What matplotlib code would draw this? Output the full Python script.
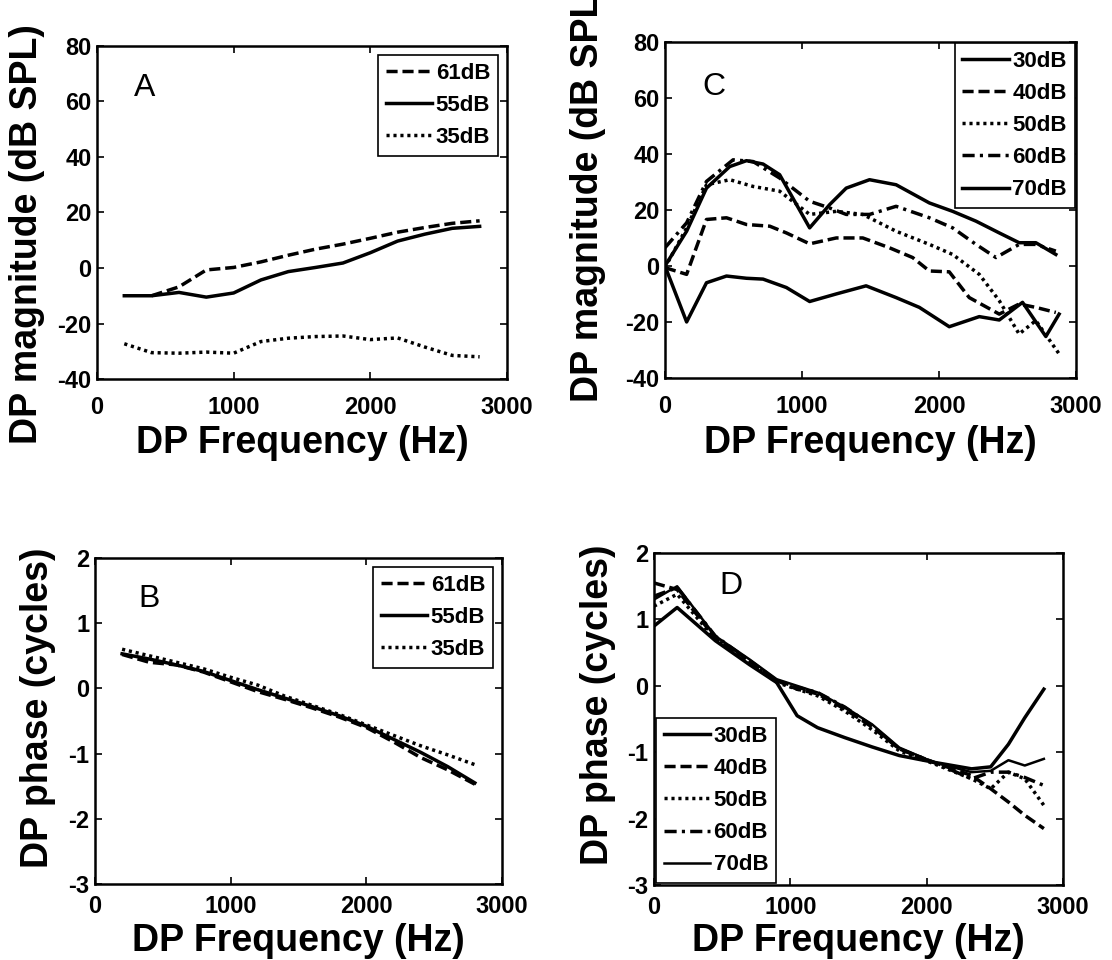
import numpy as np
import matplotlib
matplotlib.use("Agg")
import matplotlib.pyplot as plt

plt.rcParams['font.family'] = ['Liberation Sans', 'DejaVu Sans']
plt.rcParams['axes.unicode_minus'] = False

# --- panel A : DP magnitude, three levels ---
freq_a = [200, 400, 600, 800, 1000, 1200, 1400, 1600, 1800, 2000, 2200, 2400, 2600, 2800]
mag_a_61 = [np.nan, -10, -6.8, -0.7, 0.2, 2.2, 4.6, 6.8, 8.6, 10.7, 12.9, 14.6, 16.1, 17.0]
mag_a_55 = [-10, -10, -8.8, -10.5, -9.0, -4.3, -1.3, 0.2, 1.8, 5.5, 9.7, 12.2, 14.3, 15.0]
mag_a_35 = [-27.3, -30.5, -30.7, -30.3, -30.7, -26.5, -25.3, -24.7, -24.5, -25.8, -25.2, -28.5, -31.5, -32.0]

# --- panel B : DP phase, three levels ---
freq_b = [200, 400, 600, 800, 1000, 1200, 1400, 1600, 1800, 2000, 2200, 2400, 2600, 2800]
ph_b_61 = [0.52, 0.40, 0.36, 0.25, 0.10, -0.05, -0.17, -0.30, -0.44, -0.60, -0.82, -1.06, -1.25, -1.47]
ph_b_55 = [0.53, 0.45, 0.36, 0.26, 0.12, -0.02, -0.15, -0.28, -0.42, -0.58, -0.78, -0.98, -1.20, -1.45]
ph_b_35 = [0.60, 0.50, 0.40, 0.30, 0.17, 0.05, -0.12, -0.26, -0.40, -0.56, -0.72, -0.88, -1.02, -1.17]

# --- panel C : DP magnitude, five levels ---
freq_c_30 = [0, 158, 303, 449, 595, 716, 886, 1056, 1250, 1468, 1687, 1857, 2075, 2294, 2440, 2610, 2780, 2877]
mag_c_30 = [0, -20, -6, -3.6, -4.4, -4.7, -7.7, -12.7, -10, -7.1, -11.3, -14.8, -21.7, -18.1, -19.3, -13, -25.2, -17.2]
freq_c_40 = [0, 158, 303, 449, 595, 765, 886, 1056, 1250, 1444, 1638, 1808, 1930, 2075, 2221, 2440, 2585, 2707, 2853]
mag_c_40 = [-0.6, -3, 16.6, 17.2, 14.8, 14.2, 11.8, 7.9, 10, 10, 6.5, 3, -1.8, -2.1, -11.3, -17.2, -13.6, -14.8, -16.6]
freq_c_50 = [0, 158, 303, 473, 643, 837, 1056, 1250, 1444, 1687, 1930, 2100, 2294, 2440, 2585, 2707, 2877]
mag_c_50 = [-0.6, 13.6, 29, 30.8, 28.4, 26.7, 18.4, 19.5, 18.4, 12.4, 7.7, 4.1, -3, -12.4, -24.3, -19.5, -31.4]
freq_c_60 = [0, 158, 303, 497, 643, 837, 1056, 1202, 1323, 1493, 1687, 1930, 2100, 2270, 2416, 2585, 2707, 2853]
mag_c_60 = [6.5, 15.4, 30.2, 37.9, 37.3, 31.4, 23.1, 20.7, 18.4, 18.4, 21.3, 17.2, 13.6, 7.7, 3, 7.7, 7.7, 5.3]
freq_c_70 = [0, 158, 303, 473, 595, 716, 837, 1056, 1202, 1323, 1493, 1687, 1930, 2100, 2270, 2440, 2585, 2707, 2853]
mag_c_70 = [0, 12.4, 27.8, 35.5, 37.6, 36.4, 32.6, 13.6, 21.9, 27.8, 30.8, 29, 22.5, 19.5, 16, 11.8, 8.3, 8.3, 4.1]

# --- panel D : DP phase, five levels ---
freq_d = [0, 170, 450, 700, 900, 1050, 1200, 1400, 1600, 1800, 2050, 2330, 2470, 2600, 2720, 2860]
ph_d_30 = [0.90, 1.18, 0.68, 0.32, 0.05, -0.45, -0.63, -0.78, -0.92, -1.05, -1.15, -1.25, -1.22, -0.88, -0.48, -0.05]
ph_d_40 = [1.55, 1.45, 0.72, 0.38, 0.08, -0.05, -0.12, -0.35, -0.62, -0.95, -1.15, -1.35, -1.55, -1.75, -1.95, -2.15]
ph_d_50 = [1.20, 1.38, 0.70, 0.36, 0.05, -0.05, -0.15, -0.38, -0.66, -0.98, -1.17, -1.40, -1.55, -1.30, -1.40, -1.80]
ph_d_60 = [1.35, 1.48, 0.75, 0.38, 0.08, -0.02, -0.10, -0.32, -0.60, -0.95, -1.15, -1.40, -1.30, -1.30, -1.38, -1.50]
ph_d_70 = [1.30, 1.50, 0.75, 0.40, 0.10, 0.00, -0.10, -0.32, -0.58, -0.93, -1.15, -1.30, -1.28, -1.12, -1.20, -1.10]

LW = 2.5
DASH = (0, (3.2, 1.4))
DOT = (0, (0.9, 1.1))
DASHDOT = (0, (3.5, 1.5, 0.9, 1.5))

fig = plt.figure(figsize=(11.12, 9.6), dpi=100)


def style_axes(ax, ylim, yticks, xpad=12):
    ax.set_xlim(0, 3000)
    ax.set_ylim(*ylim)
    ax.set_xticks([0, 1000, 2000, 3000])
    ax.set_yticks(yticks)
    ax.tick_params(direction='in', top=True, right=True, length=5, width=1.2,
                   labelsize=17)
    ax.tick_params(axis='x', pad=xpad)
    ax.tick_params(axis='y', pad=4)
    for lab in ax.get_xticklabels() + ax.get_yticklabels():
        lab.set_fontweight('bold')
    for sp in ax.spines.values():
        sp.set_linewidth(1.8)


def add_legend(ax, loc, pad):
    leg = ax.legend(loc=loc, prop={'weight': 'bold', 'size': 16}, frameon=True,
                    fancybox=False, edgecolor='black', framealpha=1,
                    handlelength=2.1, handletextpad=0.15, labelspacing=0.5,
                    borderpad=0.35, borderaxespad=pad)
    leg.get_frame().set_linewidth(1.2)


# panel A
ax_a = fig.add_axes([0.0872, 0.6052, 0.3687, 0.3469])
ax_a.plot(freq_a, mag_a_61, color='black', lw=LW, linestyle=DASH, label='61dB')
ax_a.plot(freq_a, mag_a_55, color='black', lw=LW, linestyle='-', label='55dB')
ax_a.plot(freq_a, mag_a_35, color='black', lw=LW, linestyle=DOT, label='35dB')
style_axes(ax_a, (-40, 80), [-40, -20, 0, 20, 40, 60, 80])
ax_a.text(270, 65, 'A', fontsize=23, va='center', ha='left')
add_legend(ax_a, 'upper right', 0.4)

# panel B
ax_b = fig.add_axes([0.0854, 0.0792, 0.3660, 0.3396])
ax_b.plot(freq_b, ph_b_61, color='black', lw=LW, linestyle=DASH, label='61dB')
ax_b.plot(freq_b, ph_b_55, color='black', lw=LW, linestyle='-', label='55dB')
ax_b.plot(freq_b, ph_b_35, color='black', lw=LW, linestyle=DOT, label='35dB')
style_axes(ax_b, (-3, 2), [-3, -2, -1, 0, 1, 2], xpad=8)
ax_b.text(320, 1.37, 'B', fontsize=23, va='center', ha='left')
add_legend(ax_b, 'upper right', 0.4)

# panel C
ax_c = fig.add_axes([0.5980, 0.6063, 0.3696, 0.3500])
ax_c.plot(freq_c_30, mag_c_30, color='black', lw=LW, linestyle='-', label='30dB')
ax_c.plot(freq_c_40, mag_c_40, color='black', lw=LW, linestyle=DASH, label='40dB')
ax_c.plot(freq_c_50, mag_c_50, color='black', lw=LW, linestyle=DOT, label='50dB')
ax_c.plot(freq_c_60, mag_c_60, color='black', lw=LW, linestyle=DASHDOT, label='60dB')
ax_c.plot(freq_c_70, mag_c_70, color='black', lw=LW, linestyle='-', label='70dB')
style_axes(ax_c, (-40, 80), [-40, -20, 0, 20, 40, 60, 80])
ax_c.text(270, 64, 'C', fontsize=23, va='center', ha='left')
add_legend(ax_c, 'upper right', 0.05)

# panel D
ax_d = fig.add_axes([0.5881, 0.0781, 0.3678, 0.3458])
ax_d.plot(freq_d, ph_d_30, color='black', lw=LW, linestyle='-', label='30dB')
ax_d.plot(freq_d, ph_d_40, color='black', lw=LW, linestyle=DASH, label='40dB')
ax_d.plot(freq_d, ph_d_50, color='black', lw=LW, linestyle=DOT, label='50dB')
ax_d.plot(freq_d, ph_d_60, color='black', lw=LW, linestyle=DASHDOT, label='60dB')
ax_d.plot(freq_d, ph_d_70, color='black', lw=1.8, linestyle='-', label='70dB')
style_axes(ax_d, (-3, 2), [-3, -2, -1, 0, 1, 2], xpad=8)
ax_d.text(480, 1.5, 'D', fontsize=23, va='center', ha='left')
add_legend(ax_d, 'lower left', 0.08)

# axis labels, placed by hand like the original layout
lab = dict(fontsize=27, fontweight='bold')
fig.text(0.0243, 0.7563, 'DP magnitude (dB SPL)', rotation=90, ha='center', va='center', **lab)
fig.text(0.5288, 0.8000, 'DP magnitude (dB SPL)', rotation=90, ha='center', va='center', **lab)
fig.text(0.0342, 0.2625, 'DP phase (cycles)', rotation=90, ha='center', va='center', **lab)
fig.text(0.5378, 0.2656, 'DP phase (cycles)', rotation=90, ha='center', va='center', **lab)
fig.text(0.2716, 0.5281, 'DP Frequency (Hz)', ha='center', va='baseline', **lab)
fig.text(0.7826, 0.5281, 'DP Frequency (Hz)', ha='center', va='baseline', **lab)
fig.text(0.2680, 0.0095, 'DP Frequency (Hz)', ha='center', va='baseline', **lab)
fig.text(0.7716, 0.0095, 'DP Frequency (Hz)', ha='center', va='baseline', **lab)

fig.savefig('out.png', dpi=100)
